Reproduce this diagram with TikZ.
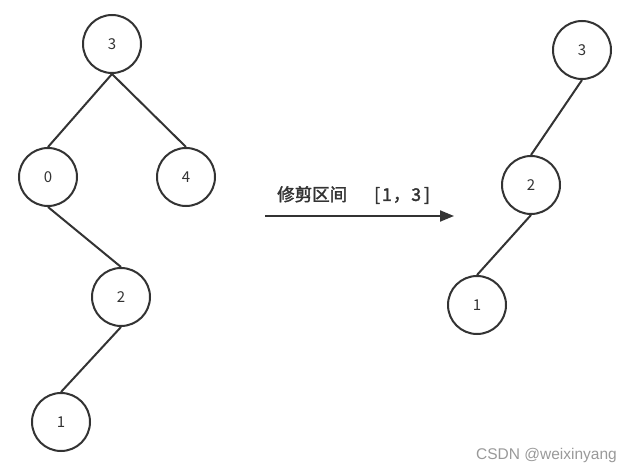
\documentclass[tikz,border=0pt]{standalone}
\usepackage{fontspec}
\newfontfamily\cjk{Noto Sans CJK SC}[AutoFakeBold=2]
\newfontfamily\numfont{Noto Sans CJK SC}
\newfontfamily\wmfont{Liberation Sans}
\usetikzlibrary{arrows.meta}
\definecolor{ink}{HTML}{333333}
\tikzset{
  tn/.style={circle, draw=ink, line width=2pt, minimum size=58pt, inner sep=0pt,
    font=\numfont\fontsize{15}{15}\selectfont, text=ink},
  edge/.style={draw=ink, line width=2pt},
}
\begin{document}
\begin{tikzpicture}[x=1pt,y=-1pt]
\useasboundingbox (0,0) rectangle (631,473);
% left tree
\node[tn] (L3) at (112,44) {3};
\node[tn] (L0) at (48,177) {0};
\node[tn] (L4) at (186,177) {4};
\node[tn] (L2) at (121,297) {2};
\node[tn] (L1) at (61,422) {1};
\draw[edge] (L3.south) -- (L0.north);
\draw[edge] (L3.south) -- (L4.north);
\draw[edge] (L0.south) -- (L2.north);
\draw[edge] (L2.south) -- (L1.north);
% right tree
\node[tn] (R3) at (582,50) {3};
\node[tn] (R2) at (531,185) {2};
\node[tn] (R1) at (477,305) {1};
\draw[edge] (R3.south) -- (R2.north);
\draw[edge] (R2.south) -- (R1.north);
% arrow
\coordinate (A0) at (265,216);
\coordinate (A1) at (454,216);
\draw[draw=ink, line width=2pt, -{Triangle[length=14pt,width=11pt]}] (A0) -- (A1);
\node[font=\cjk\bfseries\fontsize{17.5}{17.5}\selectfont, text=ink, anchor=west, inner sep=0pt] (lbl) at (277,195)
  {修剪区间\hspace{27pt}[\hspace{2pt}1\hspace{1pt}，\hspace{1pt}3\hspace{3pt}]};
\node[font=\wmfont\fontsize{15.5}{15.5}\selectfont, text=black!40, anchor=east, inner sep=0pt] (wm) at (617,455) {CSDN @weixinyang};
\end{tikzpicture}
\end{document}
